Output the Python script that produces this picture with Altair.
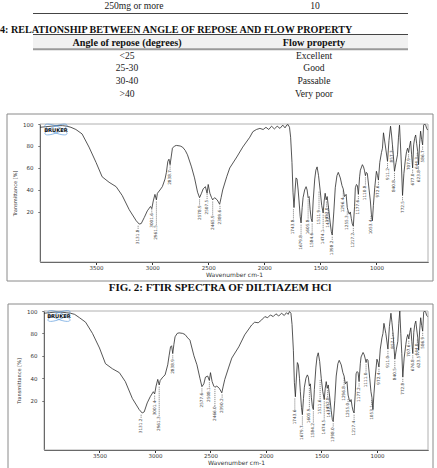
import altair as alt
import pandas as pd

W, H = 437, 468

# ---------------- table text ----------------
prev_row = ["250mg or more", "10"]
table_title = "4: RELATIONSHIP BETWEEN ANGLE OF REPOSE AND FLOW PROPERTY"
header = ["Angle of repose (degrees)", "Flow property"]
angle_of_repose = ["<25", "25-30", "30-40", ">40"]
flow_property = ["Excellent", "Good", "Passable", "Very poor"]
caption_1 = "FIG. 2: FTIR SPECTRA OF DILTIAZEM HCl"

# ---------------- spectra ----------------
x_ticks = [3500, 3000, 2500, 2000, 1500, 1000]
y_ticks = [20, 40, 60, 80, 100]

wavenumber = [
    4000, 3950, 3900, 3850, 3800, 3760, 3724, 3680, 3625, 3563,
    3500, 3446, 3384, 3321, 3267, 3204, 3142, 3115, 3097, 3070,
    3043, 3015, 3003, 2990, 2975, 2962, 2953, 2930, 2909, 2885,
    2873, 2860, 2850, 2840, 2830, 2819, 2800, 2783, 2750, 2729,
    2705, 2685, 2649, 2622, 2595, 2577, 2560, 2545, 2525, 2510,
    2500, 2485, 2470, 2460, 2443, 2420, 2398, 2385, 2371, 2335,
    2308, 2245, 2192, 2129, 2102, 2070, 2039, 2010, 1985, 1960,
    1935, 1910, 1885, 1860, 1835, 1815, 1800, 1788, 1775, 1765,
    1753, 1744, 1735, 1725, 1717, 1708, 1698, 1690, 1680, 1672,
    1662, 1654, 1640, 1627, 1618, 1609, 1600, 1591, 1582, 1573,
    1564, 1550, 1540, 1529, 1516, 1502, 1488, 1475, 1466, 1457,
    1448, 1439, 1425, 1412, 1402, 1394, 1380, 1367, 1352, 1340,
    1322, 1307, 1296, 1285, 1270, 1260, 1250, 1242, 1233, 1224,
    1215, 1206, 1195, 1188, 1178, 1170, 1161, 1150, 1143, 1125,
    1115, 1107, 1098, 1090, 1081, 1065, 1054, 1045, 1036, 1027,
    1015, 1000, 990, 982, 970, 955, 946, 937, 920, 901,
    888, 874, 865, 857, 848, 839, 825, 812, 803, 794,
    785, 776, 767, 755, 740, 731, 722, 713, 704, 695,
    686, 677, 668, 659, 650, 641, 632, 624, 615, 606,
    597, 588, 579, 570, 561, 552, 543,
]

transmittance_1 = [
    97, 97.5, 98, 98.5, 98.5, 98, 97, 95, 91, 79,
    65, 52, 47, 43, 35, 22, 12, 9, 9.5, 15,
    21, 25, 23, 30, 36, 31, 37, 40, 43, 50,
    56, 66, 68, 63, 70, 78, 80, 80.5, 80, 79,
    76, 72, 61, 51, 38, 33, 37, 41, 43, 37,
    45, 37, 33, 31, 33, 31, 27, 33, 40, 52,
    60, 70, 79, 88, 93, 95, 96, 95, 97, 95,
    98, 95.5, 98, 96, 99, 96.5, 99, 99.5, 97, 88,
    65, 38, 24, 40, 51, 50, 40, 30, 16, 10,
    24, 33, 40, 43, 40, 33, 34, 22, 14, 11,
    30, 50, 58, 61, 53, 40, 26, 19, 30, 37,
    31, 34, 22, 10, 2, -1, 20, 42, 53, 56,
    51, 44, 41, 34, 36, 24, 20, 18, 20, 14,
    9, 7, 25, 42, 45, 44, 36, 52, 58, 63,
    61, 58, 53, 56, 55, 40, 30, 18, 12, 26,
    42, 57, 53, 49, 65, 74, 78, 92, 80, 66,
    85, 98, 90, 81, 70, 57, 65, 72, 88, 99,
    80, 60, 35, 55, 69, 75, 78, 74, 80, 84.5,
    72, 60, 81, 87, 90, 82, 75, 63, 82, 93.5,
    86, 81, 99, 100, 99, 96, 94.5,
]

transmittance_2 = [
    98, 98.5, 99, 99, 98.5, 98, 97, 94, 90, 80,
    67, 53, 48.5, 45, 37, 22, 12, 9, 10, 18,
    23.5, 28, 26, 33, 39, 34, 38, 41, 43, 52,
    60, 68, 69, 62, 70, 77, 80, 80.5, 80, 79,
    76, 74, 60, 52, 40, 32.5, 35, 41, 42, 38,
    45, 37, 33, 32, 33, 31, 27, 33, 39, 50,
    58, 68, 78.7, 87.5, 90, 89.5, 92, 95, 94, 96.5,
    95, 97.5, 95.5, 98, 96, 98.5, 97, 99.5, 98, 88,
    65, 36, 23.5, 42, 54, 52, 40, 28, 14, 7.5,
    22, 32, 40, 43, 41, 33, 35, 23, 15, 12,
    30, 50, 59, 62.7, 55, 40, 28, 21, 31, 37,
    31, 34, 23, 11, 3, 1.3, 20, 42, 53, 56,
    52, 45, 42, 35, 37, 25, 21, 19, 21, 15,
    11, 9, 27, 44, 46, 45, 37, 53, 59, 63,
    61, 58, 54, 57, 56, 40, 28, 22.7, 12, 26,
    42, 57, 54, 50, 66, 76, 80, 89, 80, 66,
    86, 98, 90, 82, 70, 57, 66, 73, 89, 100,
    80, 62, 41, 58, 70, 76, 79, 75, 81, 85,
    73, 62, 81, 88, 91, 83, 76, 65, 83, 94,
    87, 82, 99, 100, 99, 96, 95,
]

# peak annotations: position, transmittance at the band, level of the label, label
peak1_wn = [3125, 3003, 2962, 2840, 2577, 2510, 2460, 2395, 1740, 1672,
            1609, 1573, 1512, 1475, 1444, 1428, 1394, 1296, 1260, 1206,
            1161, 1098, 1048, 982, 901, 857, 839, 767, 713, 677, 636, 624, 588]
peak1_dip = [9, 24, 31, 64, 33, 38, 31, 27, 24, 10,
             33, 11, 40, 19, 31, 27, -1, 41, 22, 7,
             36, 53, 18, 49, 66, 81, 57, 35, 74, 60, 75, 63, 81]
peak1_level = [6, 21, 8, 58, 26, 31, 17, 22, 13, -1,
               13, 1, 22, 4, 24, 19, -3, 33, 19, 1,
               33, 44, 16, 46, 60, 78, 49, 32, 72, 58, 73, 61, 78]
peak1_text = ["3131.8", "3001.6", "2961.5", "2838.7", "2578.9", "2507.5",
              "2465.9", "2389.6", "1743.8", "1679.8", "1605.8", "1584.6",
              "1511.9", "1474.1", "1453.0", "1432.5", "1398.2", "1296.4",
              "1255.3", "1217.2", "1177.6", "1110.8", "1053.4", "972.6",
              "911.2", "857.3", "840.8", "772.5", "707.9", "677.0", "644.3",
              "623.8", "586.7"]

peak2_wn = peak1_wn
peak2_dip = [9, 26, 34, 62, 32.5, 38, 32, 27, 23.5, 7.5,
             33, 12, 40, 21, 31, 27, 1.3, 42, 23, 9,
             37, 54, 22, 50, 66, 82, 57, 41, 75, 62, 76, 65, 82]
peak2_level = [6, 20, 6, 57, 27, 32, 15, 22, 12, -2,
               13, 0, 21, 3, 23, 18, -3, 33, 19, 2,
               33, 45, 16, 46, 60, 78, 49, 36, 72, 58, 73, 61, 78]
peak2_text = ["3131.2", "3001.4", "2961.3", "2838.9", "2577.6", "2508.1",
              "2466.0", "2390.2", "1743.6", "1679.7", "1605.9", "1584.2",
              "1511.6", "1474.5", "1452.8", "1432.1", "1398.0", "1296.8",
              "1255.0", "1217.4", "1177.2", "1111.0", "1053.1", "972.4",
              "911.0", "857.1", "840.5", "772.8", "707.6", "676.8", "644.0",
              "623.5", "586.9"]

one = pd.DataFrame({"k": [0]})
SERIF = "Times New Roman"
SANS = "DejaVu Sans"


def vbox(x1, y1, x2, y2, **kw):
    return alt.Chart(one).mark_rect(**kw).encode(
        x=alt.value(x1), x2=alt.value(x2), y=alt.value(y1), y2=alt.value(y2))


def hline(x1, x2, y, color, width):
    return alt.Chart(one).mark_rule(color=color, strokeWidth=width).encode(
        x=alt.value(x1), x2=alt.value(x2), y=alt.value(y))


def vtext(x, y, text, **kw):
    return alt.Chart(one).mark_text(text=text, **kw).encode(
        x=alt.value(x), y=alt.value(y))


layers = []

# ---------------- table ----------------
col_scale = alt.Scale(type="point", domain=["c1", "c2"], range=[127, 314], padding=0)
row_scale = alt.Scale(domain=[0, 3], range=[55.5, 94], nice=False, zero=False)

body_df = pd.DataFrame({
    "row": list(range(4)) * 2,
    "col": ["c1"] * 4 + ["c2"] * 4,
    "text": angle_of_repose + flow_property,
})
head_df = pd.DataFrame({"row": [-1, -1], "col": ["c1", "c2"], "text": header})

layers += [
    vbox(33, 35, 408, 49, color="#f1f1f1"),
    hline(33, 408, 13.5, "#444", 1),
    hline(33, 408, 34.5, "#444", 1),
    hline(33, 408, 49.3, "#9a9a9a", 2),
    vtext(134, 6, prev_row[0], font=SERIF, fontSize=9.6, color="#222"),
    vtext(315, 6, prev_row[1], font=SERIF, fontSize=9.6, color="#222"),
    vtext(0, 29.5, table_title, font=SERIF, fontSize=10.1, fontWeight="bold", color="#111", align="left"),
    alt.Chart(head_df).mark_text(font=SERIF, fontSize=10.2, fontWeight="bold", color="#111").encode(
        x=alt.X("col:N", scale=col_scale, axis=None),
        y=alt.Y("row:Q", scale=row_scale, axis=None),
        text="text:N",
    ),
    alt.Chart(body_df).mark_text(font=SERIF, fontSize=9.6, color="#222").encode(
        x=alt.X("col:N", scale=col_scale, axis=None),
        y=alt.Y("row:Q", scale=row_scale, axis=None),
        text="text:N",
    ),
]

ELLIPSE = "M-1,0 A1,0.28 0 1,0 1,0 A1,0.28 0 1,0 -1,0 Z"


def panel(t_values, pk_wn, pk_dip, pk_level, pk_text, xr, yr, ydom, box, logo, caption=None, cap_xy=None):
    xs = alt.Scale(domain=[540, 4000], reverse=True, range=list(xr), nice=False, zero=False)
    ys = alt.Scale(domain=list(ydom), range=[yr[0], yr[1]], nice=False, zero=False)

    spec = pd.DataFrame({"wn": wavenumber, "T": t_values})
    x_axis = alt.Axis(
        orient="bottom", offset=yr[0] - H, values=x_ticks, format="d",
        title="Wavenumber cm-1", grid=False,
        labelFont=SANS, labelFontSize=5.5, labelColor="#333", labelPadding=1,
        tickSize=2.5, tickColor="#333", domainColor="#222", domainWidth=1,
        titleFont=SANS, titleFontSize=6, titleFontWeight="normal", titleColor="#333",
        titlePadding=0.5,
    )
    y_axis = alt.Axis(
        orient="left", offset=-xr[0], values=y_ticks, format="d",
        title="Transmittance [%]", grid=False,
        labelFont=SANS, labelFontSize=5.5, labelColor="#333", labelPadding=5,
        tickSize=2, tickColor="#333", domainColor="#222", domainWidth=1,
        titleFont=SANS, titleFontSize=5, titleFontWeight="normal", titleColor="#333",
        titlePadding=5,
    )

    curve = alt.Chart(spec).mark_line(color="#2b2b2b", strokeWidth=0.8).encode(
        x=alt.X("wn:Q", scale=xs, axis=x_axis),
        y=alt.Y("T:Q", scale=ys, axis=y_axis),
    )

    pk = pd.DataFrame({"wn": pk_wn, "dip": pk_dip, "level": pk_level, "text": pk_text})
    pk_calc = alt.Chart(pk).transform_calculate(
        top="datum.dip - 1.5",
        lab="min(datum.level, datum.dip - 5)",
    )
    ticks = pk_calc.mark_rule(color="#444", strokeWidth=0.6, strokeDash=[1.2, 0.8]).encode(
        x=alt.X("wn:Q", scale=xs, axis=None),
        y=alt.Y("top:Q", scale=ys, axis=None),
        y2="lab:Q",
    )
    labels = pk_calc.mark_text(angle=270, align="right", baseline="middle", font=SANS,
                               fontSize=4.2, color="#333").encode(
        x=alt.X("wn:Q", scale=xs, axis=None),
        y=alt.Y("lab:Q", scale=ys, axis=None),
        text="text:N",
    )

    out = [
        vbox(box[0], box[1], box[2], box[3], fillOpacity=0, stroke="#8a8a8a", strokeWidth=1),
        vbox(xr[0], yr[1], xr[1], yr[0], fillOpacity=0, stroke="#b0b0b0", strokeWidth=1),
        curve, ticks, labels,
        alt.Chart(one).mark_point(shape=ELLIPSE, size=560, angle=22, filled=False,
                                  stroke="#4a90d9", strokeWidth=0.8).encode(
            x=alt.value(logo[0]), y=alt.value(logo[1])),
        alt.Chart(one).mark_point(shape=ELLIPSE, size=560, angle=338, filled=False,
                                  stroke="#4a90d9", strokeWidth=0.8).encode(
            x=alt.value(logo[0]), y=alt.value(logo[1])),
        vtext(logo[0], logo[1], "BRUKER", font=SANS, fontSize=5.2, fontWeight="bold", color="#111"),
    ]
    if caption:
        out.append(vtext(cap_xy[0], cap_xy[1], caption, font=SERIF, fontSize=11,
                         fontWeight="bold", color="#111"))
    return out


layers += panel(transmittance_1, peak1_wn, peak1_dip, peak1_level, peak1_text,
                xr=(40, 428), yr=(262, 124), ydom=(-25.5, 100),
                box=(7, 114, 433, 281), logo=(56, 129.5),
                caption=caption_1, cap_xy=(220, 288))
layers += panel(transmittance_2, peak2_wn, peak2_dip, peak2_level, peak2_text,
                xr=(44, 428), yr=(450, 311), ydom=(-24, 100),
                box=(8, 304, 433, 470), logo=(59, 316))

chart = alt.layer(*layers).resolve_scale(
    x="independent", y="independent"
).resolve_axis(
    x="independent", y="independent"
).properties(
    width=W, height=H, padding=0, autosize=alt.AutoSizeParams(type="none"),
    background="white",
).configure_view(stroke="transparent")

chart.save("out.html", embed_options={"renderer": "svg", "actions": False})
